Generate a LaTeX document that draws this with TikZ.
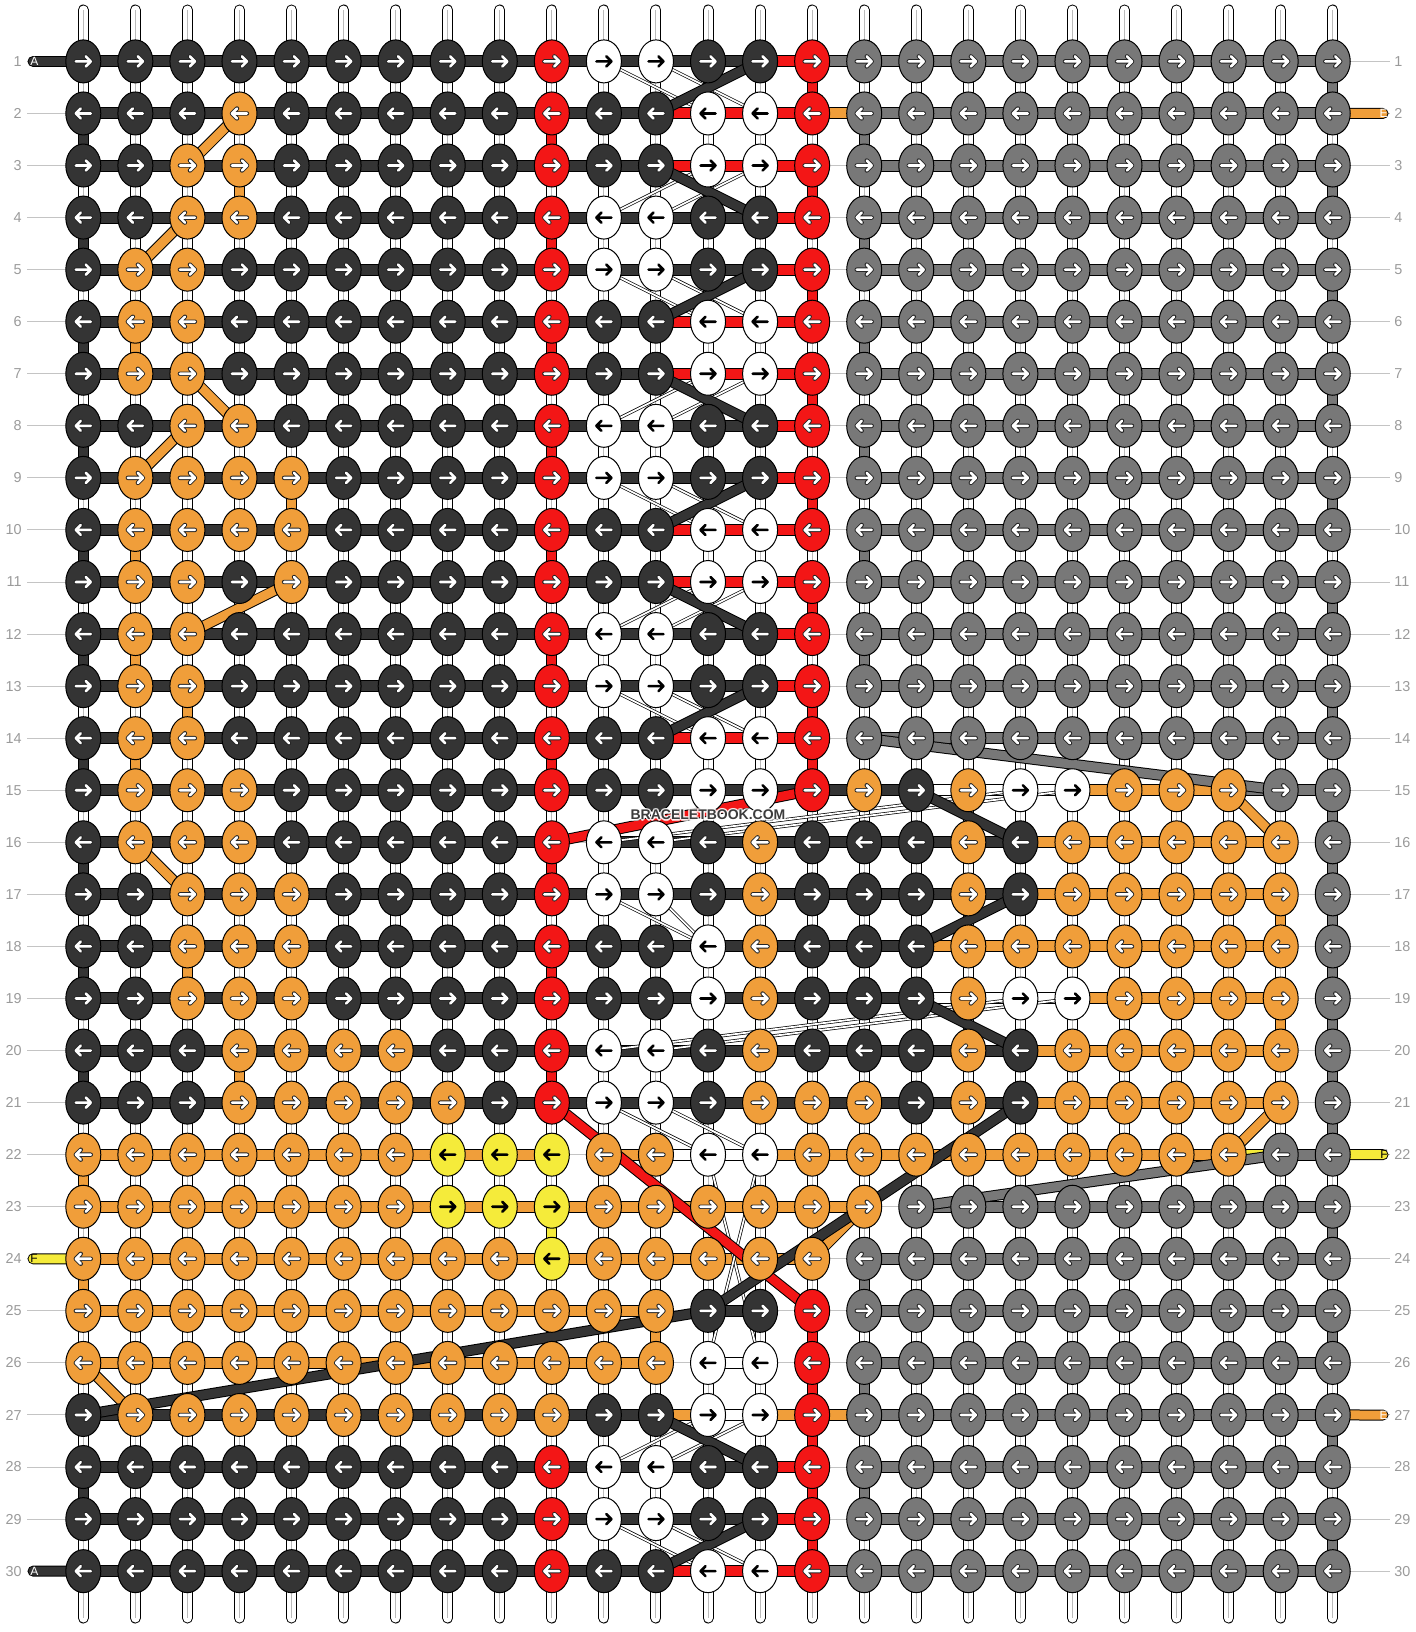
\documentclass[tikz,border=0pt]{standalone}
\usepackage{fontspec}
\setmainfont{Liberation Sans}
\usetikzlibrary{shapes.geometric}
\definecolor{cD}{HTML}{343434}
\definecolor{cR}{HTML}{F31616}
\definecolor{cW}{HTML}{FFFFFF}
\definecolor{cO}{HTML}{F09E3A}
\definecolor{cG}{HTML}{787878}
\definecolor{cY}{HTML}{F5EB3A}
\definecolor{numgray}{HTML}{9A9A9A}
\definecolor{linegray}{HTML}{C4C4C4}
\definecolor{strgray}{HTML}{BBBBBB}
\definecolor{wmgray}{HTML}{3C3C3C}
\newcommand\setkn[2]{\expandafter\def\csname kn#1\endcsname{#2}}
\newcommand\setsg[2]{\expandafter\def\csname sg#1\endcsname{#2}}
\def\Dnine{D,D,D,D,D,D,D,D,D}
\def\Dele{D,D,D,D,D,D,D,D,D,D,D}
\def\Dthir{\Dele,D,D}
\def\Gten{G,G,G,G,G,G,G,G,G,G}
\def\Gnine{G,G,G,G,G,G,G,G,G}
\def\Oele{O,O,O,O,O,O,O,O,O,O,O}
% knot colours
\setkn{1}{\Dnine,R,W,W,D,D,R,\Gten}
\setkn{2}{D,D,D,O,D,D,D,D,D,R,D,D,W,W,R,\Gten}
\setkn{3}{D,D,O,O,D,D,D,D,D,R,D,D,W,W,R,\Gten}
\setkn{4}{D,D,O,O,D,D,D,D,D,R,W,W,D,D,R,\Gten}
\setkn{5}{D,O,O,D,D,D,D,D,D,R,W,W,D,D,R,\Gten}
\setkn{6}{D,O,O,D,D,D,D,D,D,R,D,D,W,W,R,\Gten}
\setkn{7}{D,O,O,D,D,D,D,D,D,R,D,D,W,W,R,\Gten}
\setkn{8}{D,D,O,O,D,D,D,D,D,R,W,W,D,D,R,\Gten}
\setkn{9}{D,O,O,O,O,D,D,D,D,R,W,W,D,D,R,\Gten}
\setkn{10}{D,O,O,O,O,D,D,D,D,R,D,D,W,W,R,\Gten}
\setkn{11}{D,O,O,D,O,D,D,D,D,R,D,D,W,W,R,\Gten}
\setkn{12}{D,O,O,D,D,D,D,D,D,R,W,W,D,D,R,\Gten}
\setkn{13}{D,O,O,D,D,D,D,D,D,R,W,W,D,D,R,\Gten}
\setkn{14}{D,O,O,D,D,D,D,D,D,R,D,D,W,W,R,\Gten}
\setkn{15}{D,O,O,O,D,D,D,D,D,R,D,D,W,W,R,O,D,O,W,W,O,O,O,G,G}
\setkn{16}{D,O,O,O,D,D,D,D,D,R,W,W,D,O,D,D,D,O,D,O,O,O,O,O,G}
\setkn{17}{D,D,O,O,O,D,D,D,D,R,W,W,D,O,D,D,D,O,D,O,O,O,O,O,G}
\setkn{18}{D,D,O,O,O,D,D,D,D,R,D,D,W,O,D,D,D,O,O,O,O,O,O,O,G}
\setkn{19}{D,D,O,O,O,D,D,D,D,R,D,D,W,O,D,D,D,O,W,W,O,O,O,O,G}
\setkn{20}{D,D,D,O,O,O,O,D,D,R,W,W,D,O,D,D,D,O,D,O,O,O,O,O,G}
\setkn{21}{D,D,D,O,O,O,O,O,D,R,W,W,D,O,O,O,D,O,D,O,O,O,O,O,G}
\setkn{22}{O,O,O,O,O,O,O,Y,Y,Y,O,O,W,W,O,O,O,O,O,O,O,O,O,G,G}
\setkn{23}{O,O,O,O,O,O,O,Y,Y,Y,O,O,O,O,O,O,\Gnine}
\setkn{24}{O,O,O,O,O,O,O,O,O,Y,O,O,O,O,O,\Gten}
\setkn{25}{\Oele,O,D,D,R,\Gten}
\setkn{26}{\Oele,O,W,W,R,\Gten}
\setkn{27}{D,O,O,O,O,O,O,O,O,O,D,D,W,W,R,\Gten}
\setkn{28}{\Dnine,R,W,W,D,D,R,\Gten}
\setkn{29}{\Dnine,R,W,W,D,D,R,\Gten}
\setkn{30}{\Dnine,R,D,D,W,W,R,\Gten}
% horizontal segment colours
\def\sgA{\Dthir,R,n,\Gnine}
\def\sgB{\Dele,R,R,R,n,\Gnine}
\setsg{1}{\Dthir,R,G,\Gnine}
\setsg{2}{\Dele,R,R,R,O,\Gnine}
\setsg{3}{\sgB}
\setsg{4}{\sgA}
\setsg{5}{\sgA}
\setsg{6}{\sgB}
\setsg{7}{\sgB}
\setsg{8}{\sgA}
\setsg{9}{\sgA}
\setsg{10}{\sgB}
\setsg{11}{\sgB}
\setsg{12}{\sgA}
\setsg{13}{\sgA}
\setsg{14}{\sgB}
\setsg{15}{\Dele,D,D,D,D,D,W,W,W,O,O,O,G,G}
\setsg{16}{\Dnine,n,D,D,D,D,D,D,D,D,O,O,O,O,O,n}
\setsg{17}{\Dele,D,D,D,D,D,D,D,O,O,O,O,O,n}
\setsg{18}{\Dele,D,D,D,D,D,O,O,O,O,O,O,O,n}
\setsg{19}{\Dele,D,D,D,D,D,W,W,W,O,O,O,O,n}
\setsg{20}{\Dele,D,D,D,D,D,D,D,O,O,O,O,O,n}
\setsg{21}{\Dele,D,D,D,D,D,D,D,O,O,O,O,O,n}
\setsg{22}{O,O,O,O,O,O,O,O,O,n,O,W,W,O,O,O,O,O,O,O,O,O,Y,G}
\setsg{23}{\Oele,O,O,O,O,n,G,G,G,G,G,G,G,G}
\setsg{24}{\Oele,O,O,O,n,\Gnine}
\setsg{25}{\Oele,n,D,n,n,\Gnine}
\setsg{26}{\Oele,n,W,n,n,\Gnine}
\setsg{27}{\Dele,O,W,O,O,\Gnine}
\setsg{28}{\sgA}
\setsg{29}{\sgA}
\setsg{30}{\Dele,R,R,R,G,\Gnine}
\tikzset{
 knot/.style={ellipse, draw=black, line width=0.5pt, minimum width=17.5pt, minimum height=21.5pt, inner sep=0pt},
 warrow/.style={draw=white, line width=1.3pt, line cap=round, line join=round, preaction={draw=black!85, line width=2.2pt, line cap=round, line join=round}},
 barrow/.style={draw=black, line width=1.3pt, line cap=round, line join=round},
 aD/.style={warrow}, aR/.style={warrow}, aO/.style={warrow}, aG/.style={warrow},
 aW/.style={barrow}, aY/.style={barrow},
 hbar/.style={line width=5pt, preaction={draw=black, line width=6pt}},
 sD/.style={hbar, draw=cD}, sR/.style={hbar, draw=cR}, sW/.style={hbar, draw=white},
 sO/.style={hbar, draw=cO}, sG/.style={hbar, draw=cG}, sY/.style={hbar, draw=cY},
 sn/.style={draw=linegray, line width=0.5pt},
 vstr/.style={draw=white, line width=4.5pt, preaction={draw=black, line width=5.5pt}, postaction={draw=strgray, line width=0.5pt}},
 vcol/.style={line width=4.5pt, preaction={draw=black, line width=5.5pt}},
 endstr/.style={draw=white, line width=4.5pt, line cap=round, preaction={draw=black, line width=5.5pt, line cap=round}, postaction={draw=strgray, line width=0.5pt, line cap=butt}},
 dthick/.style={line width=4.5pt, preaction={draw=black, line width=5.5pt}},
 dthin/.style={draw=white, line width=0.9pt, preaction={draw=black, line width=1.6pt}},
 numl/.style={text=numgray, font=\fontsize{7.2pt}{8pt}\selectfont, inner sep=0pt},
 tabline/.style={line width=4.5pt, line cap=round, preaction={draw=black, line width=5.5pt, line cap=round}},
 tablbl/.style={font=\fontsize{6pt}{7pt}\selectfont, inner sep=0pt},
 numline/.style={draw=linegray, line width=0.5pt},
 wmfont/.style={font=\bfseries\fontsize{7pt}{8pt}\selectfont, inner sep=0pt},
}
\begin{document}
\begin{tikzpicture}[x=0.5pt,y=-0.5pt]
\useasboundingbox (0,0) rectangle (1416,1632);
% grid coordinates
\foreach \r in {1,...,30}{
  \foreach \c in {1,...,25}{
    \coordinate (p-\r-\c) at ({83.3+(\c-1)*52.06},{61.4+(\r-1)*52.06});
  }
}
% top and bottom strings
\foreach \c in {1,...,25}{
  \coordinate (t-\c) at ({83.3+(\c-1)*52.06},10);
  \coordinate (b-\c) at ({83.3+(\c-1)*52.06},1618);
  \draw[endstr] (t-\c) -- (p-1-\c);
  \draw[endstr] (p-30-\c) -- (b-\c);
}
% vertical connectors
\foreach \r in {1,...,29}{
  \pgfmathtruncatemacro\rn{\r+1}
  \foreach \c in {1,...,25}{
    \draw[vstr] (p-\r-\c) -- (p-\rn-\c);
  }
}
\foreach \r/\c/\k in {2/1/D,4/1/D,6/1/D,8/1/D,10/1/D,12/1/D,14/1/D,16/1/D,18/1/D,20/1/D,28/1/D,22/1/O,24/1/O,
  1/25/G,3/25/G,5/25/G,7/25/G,9/25/G,11/25/G,13/25/G,15/25/G,16/25/G,17/25/G,18/25/G,19/25/G,20/25/G,21/25/G,23/25/G,25/25/G,27/25/G,29/25/G,
  2/10/R,4/10/R,6/10/R,8/10/R,10/10/R,12/10/R,14/10/R,16/10/R,18/10/R,20/10/R,
  1/15/R,3/15/R,5/15/R,7/15/R,9/15/R,11/15/R,13/15/R,14/15/R,25/15/R,26/15/R,27/15/R,28/15/R,29/15/R,
  2/16/G,4/16/G,6/16/G,8/16/G,10/16/G,12/16/G,24/16/G,26/16/G,28/16/G,
  3/4/O,6/2/O,9/5/O,10/2/O,12/2/O,13/3/O,14/2/O,18/3/O,20/4/O,17/24/O,19/24/O,25/12/O,23/10/Y}{
  \pgfmathtruncatemacro\rn{\r+1}
  \draw[vcol, draw=c\k] (p-\r-\c) -- (p-\rn-\c);
}
% row number guide lines
\foreach \r in {1,...,30}{
  \coordinate (ll-\r) at (27,{61.4+(\r-1)*52.06});
  \coordinate (lr-\r) at (1390,{61.4+(\r-1)*52.06});
  \draw[numline] (ll-\r) -- (p-\r-1);
  \draw[numline] (p-\r-25) -- (lr-\r);
}
% tabs
\coordinate (tabl-1) at (33,61.4);
\coordinate (tabl-30) at (33,1571.1);
\coordinate (tabl-24) at (33,1258.8);
\coordinate (tabr-2) at (1383,113.5);
\coordinate (tabr-27) at (1383,1415.0);
\coordinate (tabr-22) at (1383,1154.7);
\draw[tabline, draw=cD] (tabl-1) -- (p-1-1);
\draw[tabline, draw=cD] (tabl-30) -- (p-30-1);
\draw[tabline, draw=cY] (tabl-24) -- (p-24-1);
\draw[tabline, draw=cO] (p-2-25) -- (tabr-2);
\draw[tabline, draw=cO] (p-27-25) -- (tabr-27);
\draw[tabline, draw=cY] (p-22-25) -- (tabr-22);
% horizontal segments
\foreach \r in {1,...,30}{
  \edef\lst{\csname sg\r\endcsname}
  \foreach \k [count=\c] in \lst {
    \pgfmathtruncatemacro\cn{\c+1}
    \draw[s\k] (p-\r-\c) -- (p-\r-\cn);
  }
}
% thin white strands
\foreach \ra/\ca/\rb/\cb in {1/11/2/13,1/12/2/14,3/13/4/11,3/14/4/12,5/11/6/13,5/12/6/14,7/13/8/11,7/14/8/12,
  9/11/10/13,9/12/10/14,11/13/12/11,11/14/12/12,13/11/14/13,13/12/14/14,15/19/16/11,15/20/16/12,
  17/11/18/13,17/12/18/13,19/19/20/11,19/20/20/12,21/11/22/13,21/12/22/14,22/13/26/14,22/14/26/13,
  27/13/28/11,27/14/28/12,29/11/30/13,29/12/30/14}{
  \draw[dthin] (p-\ra-\ca) -- (p-\rb-\cb);
}
% thick diagonal strands
\foreach \ra/\ca/\rb/\cb/\k in {2/4/3/3/O,4/3/5/2/O,7/3/8/4/O,8/3/9/2/O,11/5/12/3/O,16/2/17/3/O,15/23/16/24/O,21/24/22/23/O,23/16/24/15/O,26/1/27/2/O,
  14/16/15/24/G,23/17/22/24/G,
  1/14/2/12/D,3/12/4/14/D,5/14/6/12/D,7/12/8/14/D,9/14/10/12/D,11/12/12/14/D,13/14/14/12/D,15/17/16/19/D,17/19/18/17/D,19/17/20/19/D,21/19/25/13/D,25/13/27/1/D,27/12/28/14/D,29/14/30/12/D,
  15/15/16/10/R,21/10/25/15/R}{
  \draw[dthick, draw=c\k] (p-\ra-\ca) -- (p-\rb-\cb);
}
% knots
\foreach \r in {1,...,30}{
  \edef\lst{\csname kn\r\endcsname}
  \pgfmathtruncatemacro\dir{1-2*mod(\r+1,2)}
  \foreach \k [count=\c] in \lst {
    \node[knot, fill=c\k] (k-\r-\c) at (p-\r-\c) {};
    \draw[a\k, shift={(p-\r-\c)}, xscale=\dir] (-7.5,0) -- (7.5,0) (2.5,-5) -- (7.5,0) -- (2.5,5);
  }
}
% row numbers
\foreach \r in {1,...,30}{
  \node[numl, anchor=east] (nl-\r) at (22,{61.4+(\r-1)*52.06}) {\r};
  \node[numl, anchor=west] (nr-\r) at (1394,{61.4+(\r-1)*52.06}) {\r};
}
% tab labels
\node[tablbl, text=white, anchor=west] (la-1) at (30,61.4) {A};
\node[tablbl, text=white, anchor=west] (la-30) at (30,1571.1) {A};
\node[tablbl, text=black, anchor=west] (lf-24) at (30,1258.8) {F};
\node[tablbl, text=white, anchor=east] (le-2) at (1388,113.5) {E};
\node[tablbl, text=white, anchor=east] (le-27) at (1388,1415.0) {E};
\node[tablbl, text=black, anchor=east] (lf-22) at (1388,1154.7) {F};
% watermark with light halo
\foreach \dx/\dy in {-1.5/0,1.5/0,0/-1.5,0/1.5,-1/-1,1/1,-1/1,1/-1}{
  \node[wmfont, text=white, opacity=0.7] (wmh) at ({708+\dx},{815+\dy}) {BRACELETBOOK.COM};
}
\node[wmfont, text=wmgray] (wm) at (708,815) {BRACELETBOOK.COM};
\end{tikzpicture}
\end{document}
